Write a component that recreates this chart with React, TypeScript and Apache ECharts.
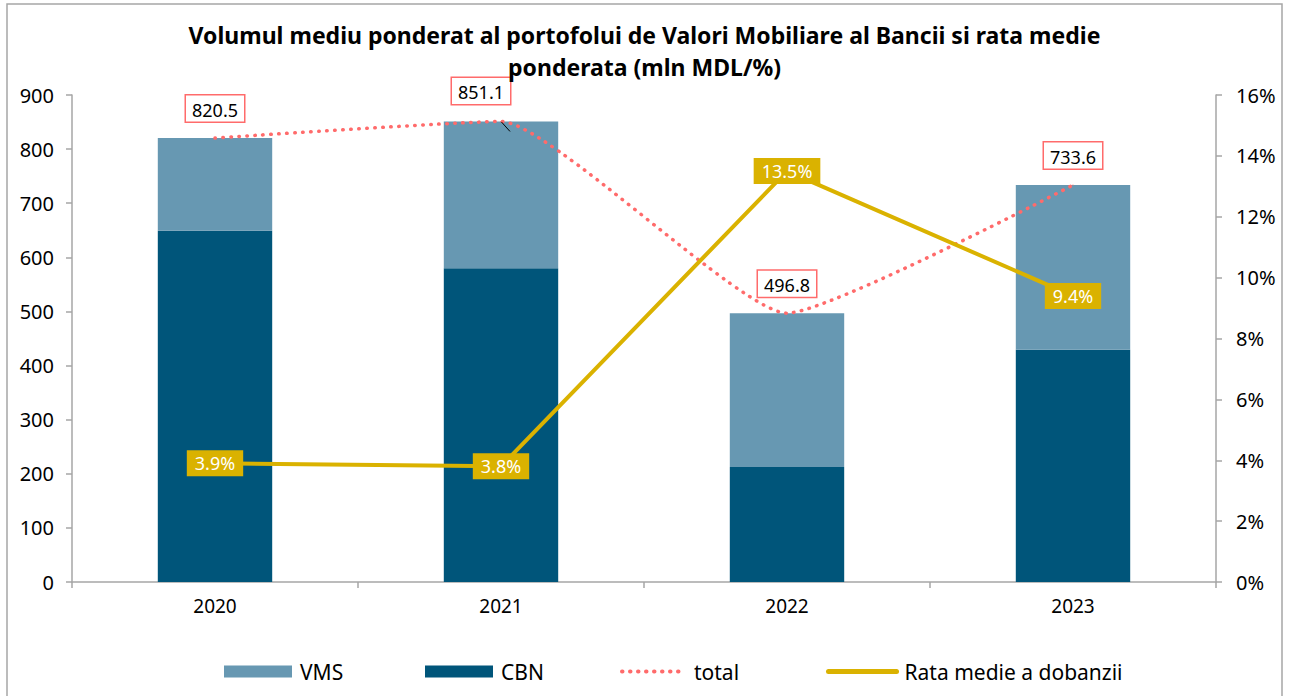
import React, { useEffect, useRef } from "react";
import * as echarts from "echarts";

const categories = ["2020", "2021", "2022", "2023"];
const vms = [171.5, 271.1, 284.3, 304.6];
const cbn = [649, 580, 212.5, 429];
const total = [820.5, 851.1, 496.8, 733.6];
const rate = [3.9, 3.8, 13.5, 9.4];
const titleLine1 = "Volumul mediu ponderat al portofolui de Valori Mobiliare al Bancii si rata medie";
const titleLine2 = "ponderata (mln MDL/%)";

const FONT = "Noto Sans";

export default function App() {
  const ref = useRef<HTMLDivElement>(null);
  useEffect(() => {
    if (!ref.current) return;
    const chart = echarts.init(ref.current, null, { renderer: "svg" });
    const legendBase = {
      bottom: 9,
      itemHeight: 12,
      textStyle: { fontFamily: FONT, fontSize: 21, color: "#000", padding: [0, 0, 0, 3] },
      selectedMode: false,
    };
    const titleStyle = { fontFamily: FONT, fontSize: 23, fontWeight: "bold", color: "#000", lineHeight: 32 };
    chart.setOption({
      animation: false,
      backgroundColor: "#fff",
      textStyle: { fontFamily: FONT },
      title: [
        { text: titleLine1, left: "center", top: 19, padding: 0, textStyle: titleStyle },
        { text: titleLine2, left: "center", top: 51, padding: 0, textStyle: titleStyle },
      ],
      graphic: [
        {
          type: "rect",
          shape: { x: 7, y: 4, width: 1275, height: 720 },
          style: { fill: "none", stroke: "#a6a6a6", lineWidth: 1.5 },
          silent: true,
        },
      ],
      legend: [
        { ...legendBase, left: 219, itemWidth: 68, data: [{ name: "VMS", icon: "rect" }] },
        { ...legendBase, left: 420, itemWidth: 68, data: [{ name: "CBN", icon: "rect" }] },
        {
          ...legendBase,
          left: 615,
          itemWidth: 64,
          data: [
            {
              name: "total",
              itemStyle: { color: "transparent", borderWidth: 0 },
              lineStyle: { width: 4, type: [0.5, 7.5], cap: "round", color: "#FF6B6B" },
            },
          ],
        },
        {
          ...legendBase,
          left: 821,
          itemWidth: 68,
          data: [
            {
              name: "Rata medie a dobanzii",
              itemStyle: { color: "transparent", borderWidth: 0 },
              lineStyle: { width: 5, color: "#DAB200", cap: "round" },
            },
          ],
        },
      ],
      grid: { left: 72, right: 73, top: 95, bottom: 114, containLabel: false },
      xAxis: {
        type: "category",
        data: categories,
        axisLine: { lineStyle: { color: "#a6a6a6", width: 1.5 } },
        axisTick: { show: true, length: 6, lineStyle: { color: "#a6a6a6", width: 1.5 } },
        axisLabel: { fontFamily: FONT, fontSize: 19, color: "#000", margin: 14 },
      },
      yAxis: [
        {
          type: "value",
          min: 0,
          max: 900,
          interval: 100,
          splitLine: { show: false },
          axisLine: { show: true, lineStyle: { color: "#a6a6a6", width: 1.5 } },
          axisTick: { show: true, length: 6, lineStyle: { color: "#a6a6a6", width: 1.5 } },
          axisLabel: { fontFamily: FONT, fontSize: 20, color: "#000", margin: 18 },
        },
        {
          type: "value",
          min: 0,
          max: 16,
          interval: 2,
          position: "right",
          splitLine: { show: false },
          axisLine: { show: true, lineStyle: { color: "#a6a6a6", width: 1.5 } },
          axisTick: { show: true, length: 6, lineStyle: { color: "#a6a6a6", width: 1.5 } },
          axisLabel: { fontFamily: FONT, fontSize: 20, color: "#000", margin: 20, formatter: "{value}%" },
        },
      ],
      series: [
        {
          name: "CBN",
          type: "bar",
          stack: "a",
          data: cbn,
          barWidth: "40%",
          itemStyle: { color: "#00557A" },
        },
        {
          name: "VMS",
          type: "bar",
          stack: "a",
          data: vms,
          barWidth: "40%",
          itemStyle: { color: "#6798B2" },
        },
        {
          name: "total",
          type: "line",
          data: total.map((v, i) =>
            i === 1
              ? { value: v, label: { offset: [-20, -1] }, labelLine: { show: true, lineStyle: { color: "#000", width: 1 } } }
              : v
          ),
          smooth: 0.15,
          symbol: "circle",
          symbolSize: 1,
          itemStyle: { color: "#FF6B6B" },
          lineStyle: { color: "#FF6B6B", width: 3.5, type: [0.5, 7.5], cap: "round" },
          label: {
            show: true,
            position: "top",
            distance: 16,
            formatter: (p: any) => p.value.toFixed(1),
            fontFamily: FONT,
            fontSize: 18,
            color: "#000",
            backgroundColor: "#fff",
            borderColor: "#FF6B6B",
            borderWidth: 1.5,
            padding: [5, 6, 3, 6],
          },
          z: 5,
        },
        {
          name: "Rata medie a dobanzii",
          type: "line",
          yAxisIndex: 1,
          data: rate,
          symbol: "circle",
          symbolSize: 1,
          itemStyle: { color: "#DAB200" },
          lineStyle: { color: "#DAB200", width: 4 },
          label: {
            show: true,
            position: "inside",
            formatter: (p: any) => p.value.toFixed(1) + "%",
            fontFamily: FONT,
            fontSize: 18,
            color: "#fff",
            backgroundColor: "#DAB200",
            padding: [5, 8, 3, 8],
          },
          z: 6,
        },
      ],
    });
    return () => chart.dispose();
  }, []);
  return (
    <div
      ref={ref}
      style={{ position: "fixed", left: 0, top: 0, width: 1289, height: 696, background: "#fff" }}
    />
  );
}
